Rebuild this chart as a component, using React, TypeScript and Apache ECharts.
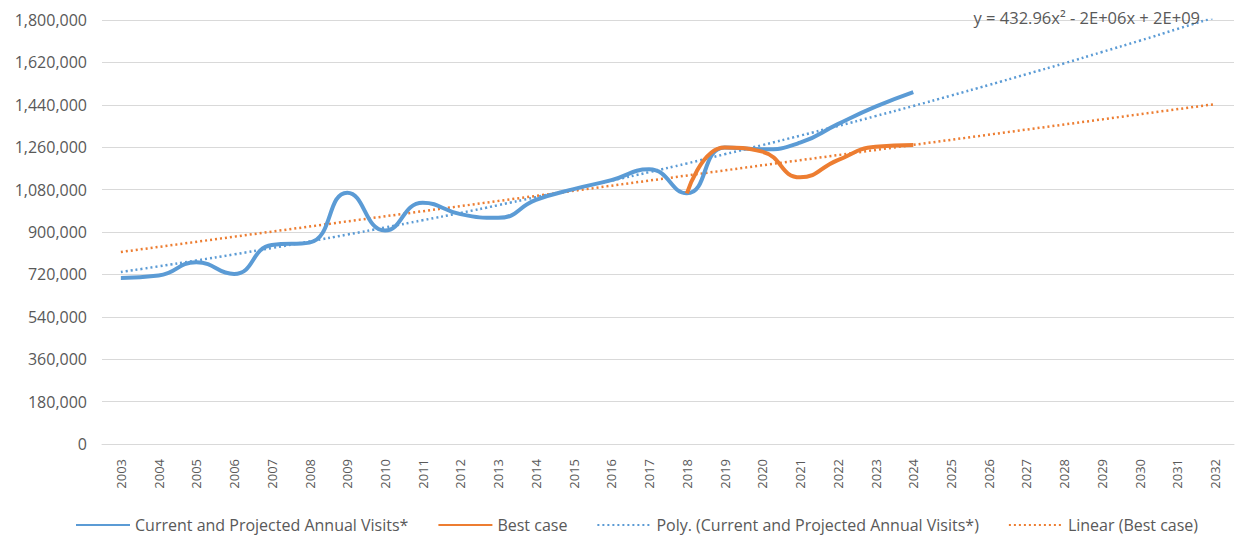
import React, { useEffect, useRef } from "react";
import * as echarts from "echarts";

const years = [
  "2003", "2004", "2005", "2006", "2007", "2008", "2009", "2010", "2011", "2012",
  "2013", "2014", "2015", "2016", "2017", "2018", "2019", "2020", "2021", "2022",
  "2023", "2024", "2025", "2026", "2027", "2028", "2029", "2030", "2031", "2032",
];

const currentVisits = [
  705000, 715000, 772000, 722000, 845000, 855000, 1067000, 906000, 1024000, 976000,
  960000, 1036000, 1082000, 1120000, 1166000, 1064000, 1259000, 1251000, 1279000, 1358000,
  1432000, 1494000, null, null, null, null, null, null, null, null,
];

const bestCase = [
  null, null, null, null, null, null, null, null, null, null,
  null, null, null, null, null, 1064000, 1259000, 1241000, 1132000, 1205000,
  1262000, 1269000, null, null, null, null, null, null, null, null,
];

const polyTrend = [
  730000, 754000, 779000, 805000, 832000, 860000, 889000, 919000, 950000, 981000,
  1014000, 1048000, 1082000, 1118000, 1154000, 1191000, 1230000, 1269000, 1309000, 1350000,
  1392000, 1435000, 1479000, 1524000, 1570000, 1616000, 1664000, 1712000, 1762000, 1812000,
];

const linearTrend = [
  815000, null, null, null, null, null, null, null, null, null,
  null, null, null, null, null, null, null, null, null, null,
  null, null, null, null, null, null, null, null, null, 1443000,
];

const seriesNames = [
  "Current and Projected Annual Visits*",
  "Best case",
  "Poly. (Current and Projected Annual Visits*)",
  "Linear (Best case)",
];

const equationText = "y = 432.96x² - 2E+06x + 2E+09";

const BLUE = "#5B9BD5";
const ORANGE = "#ED7D31";
const FONT = "'Open Sans', 'Noto Sans', sans-serif";

export default function App() {
  const ref = useRef<HTMLDivElement>(null);

  useEffect(() => {
    document.body.style.margin = "0";
    if (!ref.current) return;
    const chart = echarts.init(ref.current, undefined, { renderer: "svg" });
    chart.setOption({
      animation: false,
      backgroundColor: "#ffffff",
      textStyle: { fontFamily: FONT },
      grid: { left: 102, right: 4, top: 20, bottom: 97, containLabel: false },
      legend: {
        bottom: 3,
        left: 70,
        itemWidth: 54,
        itemHeight: 14,
        itemGap: 29,
        itemStyle: { opacity: 0 },
        textStyle: { color: "#595959", fontSize: 16, fontFamily: FONT },
        data: seriesNames,
      },
      xAxis: {
        type: "category",
        data: years,
        boundaryGap: true,
        axisLine: { show: true, lineStyle: { color: "#D9D9D9", width: 1 } },
        axisTick: { show: false },
        axisLabel: {
          rotate: 90,
          color: "#595959",
          fontSize: 13,
          margin: 15,
          fontFamily: FONT,
        },
      },
      yAxis: {
        type: "value",
        min: 0,
        max: 1800000,
        interval: 180000,
        axisLine: { show: false },
        axisTick: { show: false },
        splitLine: { lineStyle: { color: "#D9D9D9", width: 1 } },
        axisLabel: {
          color: "#595959",
          fontSize: 16,
          margin: 15,
          fontFamily: FONT,
          formatter: (v: number) => v.toLocaleString("en-US"),
        },
      },
      graphic: [
        {
          type: "text",
          right: 38,
          top: 9,
          style: {
            text: equationText,
            fill: "#595959",
            fontSize: 16.5,
            fontFamily: FONT,
          },
          z: 100,
        },
      ],
      series: [
        {
          name: seriesNames[0],
          type: "line",
          data: currentVisits,
          smooth: 0.5,
          symbol: "none",
          lineStyle: { color: BLUE, width: 4 },
          itemStyle: { color: BLUE },
          z: 3,
        },
        {
          name: seriesNames[1],
          type: "line",
          data: bestCase,
          smooth: 0.5,
          symbol: "none",
          lineStyle: { color: ORANGE, width: 4 },
          itemStyle: { color: ORANGE },
          z: 4,
        },
        {
          name: seriesNames[2],
          type: "line",
          data: polyTrend,
          smooth: true,
          symbol: "none",
          lineStyle: { color: BLUE, width: 2.5, type: [2, 3] },
          itemStyle: { color: BLUE },
          z: 2,
        },
        {
          name: seriesNames[3],
          type: "line",
          data: linearTrend,
          connectNulls: true,
          symbol: "none",
          lineStyle: { color: ORANGE, width: 2.5, type: [2, 3] },
          itemStyle: { color: ORANGE },
          z: 2,
        },
      ],
    });
    return () => chart.dispose();
  }, []);

  return <div ref={ref} style={{ width: 1238, height: 541 }} />;
}
